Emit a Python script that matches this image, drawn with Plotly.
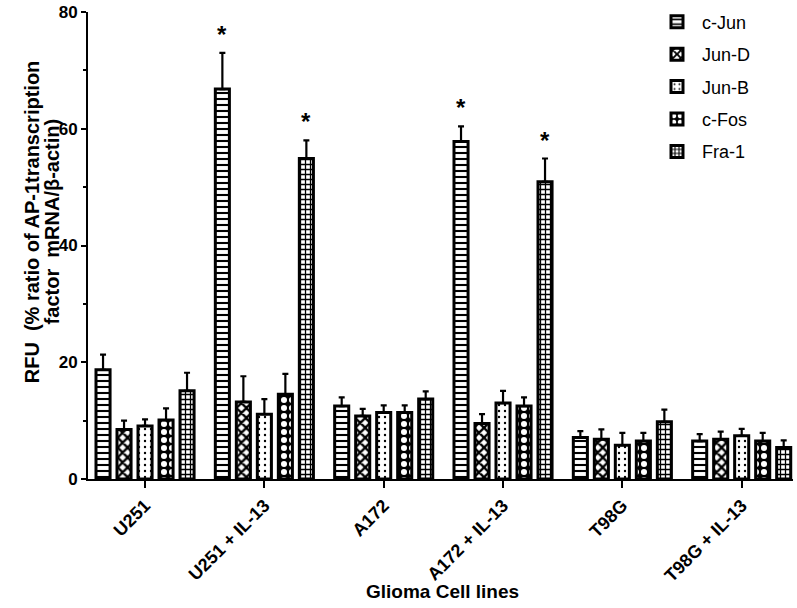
import plotly.graph_objects as go

categories = ["U251", "U251 + IL-13", "A172", "A172 + IL-13", "T98G", "T98G + IL-13"]
series_names = ["c-Jun", "Jun-D", "Jun-B", "c-Fos", "Fra-1"]

c_jun = [18.7, 66.8, 12.5, 57.8, 7.1, 6.5]
jun_d = [8.5, 13.2, 10.8, 9.5, 6.8, 6.8]
jun_b = [9.1, 11.1, 11.4, 13.0, 5.8, 7.4]
c_fos = [10.1, 14.5, 11.4, 12.5, 6.5, 6.5]
fra_1 = [15.1, 54.9, 13.7, 50.9, 9.8, 5.4]

c_jun_err = [2.6, 6.2, 1.5, 2.6, 1.1, 1.2]
jun_d_err = [1.5, 4.4, 1.2, 1.6, 1.7, 1.3]
jun_b_err = [1.1, 2.6, 1.2, 2.1, 2.1, 1.2]
c_fos_err = [2.0, 3.5, 1.2, 1.5, 1.4, 1.4]
fra_1_err = [3.1, 3.1, 1.3, 4.0, 2.1, 1.2]

# significance markers: (series index, category index)
significant = [(0, 1), (4, 1), (0, 3), (4, 3)]

y_title_lines = ["RFU  (% ratio of AP-1transcription", "factor  mRNA/β-actin)"]
x_title = "Glioma Cell lines"

values = [c_jun, jun_d, jun_b, c_fos, fra_1]
errors = [c_jun_err, jun_d_err, jun_b_err, c_fos_err, fra_1_err]

patterns = [
    dict(shape="-", fgcolor="black", bgcolor="white", size=6, solidity=0.35, fillmode="replace"),
    dict(shape="x", fgcolor="black", bgcolor="white", size=7, solidity=0.55, fillmode="replace"),
    dict(shape=".", fgcolor="black", bgcolor="white", size=6, solidity=0.12, fillmode="replace"),
    dict(shape=".", fgcolor="white", bgcolor="black", size=8, solidity=0.45, fillmode="replace"),
    dict(shape="+", fgcolor="black", bgcolor="white", size=5, solidity=0.45, fillmode="replace"),
]

FONT = "Liberation Sans, Arial, sans-serif"

fig = go.Figure()
for i, name in enumerate(series_names):
    fig.add_trace(go.Bar(
        name=name,
        x=categories,
        y=values[i],
        legendgroup=name,
        marker=dict(color="white", line=dict(color="black", width=3), pattern=patterns[i]),
        error_y=dict(type="data", symmetric=False, array=errors[i],
                     arrayminus=[0] * len(categories), color="black", thickness=2.2, width=3),
    ))

bargap = 0.12
slot = (1 - bargap) / len(series_names)
for s, c in significant:
    xpos = c + (s - (len(series_names) - 1) / 2) * slot
    top = values[s][c] + errors[s][c]
    fig.add_annotation(x=xpos, y=top, text="<b>*</b>", showarrow=False,
                       yanchor="bottom", yshift=3, font=dict(family=FONT, size=24, color="black"))

# axis titles as annotations (paper coords)
fig.add_annotation(xref="paper", yref="paper", x=-0.0800, y=0.551, text=y_title_lines[0],
                   textangle=-90, showarrow=False, xanchor="center", yanchor="middle",
                   font=dict(family=FONT, size=20, color="black", weight="bold"))
fig.add_annotation(xref="paper", yref="paper", x=-0.0515, y=0.551, text=y_title_lines[1],
                   textangle=-90, showarrow=False, xanchor="center", yanchor="middle",
                   font=dict(family=FONT, size=20, color="black", weight="bold"))
fig.add_annotation(xref="paper", yref="paper", x=0.5035, y=-0.240, text=x_title,
                   showarrow=False, xanchor="center", yanchor="middle",
                   font=dict(family=FONT, size=19, color="black", weight="bold"))

fig.update_layout(
    width=797, height=608,
    margin=dict(l=88, r=4, t=9, b=129),
    paper_bgcolor="white", plot_bgcolor="white",
    barmode="group", bargap=bargap, bargroupgap=0.33,
    font=dict(family=FONT, color="black"),
    showlegend=True,
    legend=dict(x=0.800, y=1.018, xanchor="left", yanchor="top",
                font=dict(family=FONT, size=18, color="black"),
                traceorder="grouped", tracegroupgap=6, itemwidth=40,
                bgcolor="rgba(0,0,0,0)"),
    xaxis=dict(
        range=[-0.478, 5.43], automargin=False,
        showline=True, linecolor="black", linewidth=2,
        ticks="outside", ticklen=7, tickwidth=2, tickcolor="black",
        tickangle=-45,
        tickfont=dict(family=FONT, size=18, color="black", weight="bold"),
        showgrid=False, zeroline=False,
    ),
    yaxis=dict(
        range=[0, 80], automargin=False,
        tickvals=[0, 20, 40, 60, 80],
        showline=True, linecolor="black", linewidth=2,
        ticks="outside", ticklen=5, tickwidth=2, tickcolor="black",
        minor=dict(dtick=10, ticks="outside", ticklen=3, tickwidth=2, tickcolor="black"),
        tickfont=dict(family=FONT, size=17, color="black", weight="bold"),
        showgrid=False, zeroline=False,
    ),
)

fig.write_html("out.html", config={"displayModeBar": False})

# remove the default page margin so the figure sits at the window's top-left corner
with open("out.html", "r", encoding="utf-8") as f:
    html = f.read()
html = html.replace("<head>", "<head><style>html,body{margin:0;padding:0;overflow:hidden;}</style>", 1)
with open("out.html", "w", encoding="utf-8") as f:
    f.write(html)
